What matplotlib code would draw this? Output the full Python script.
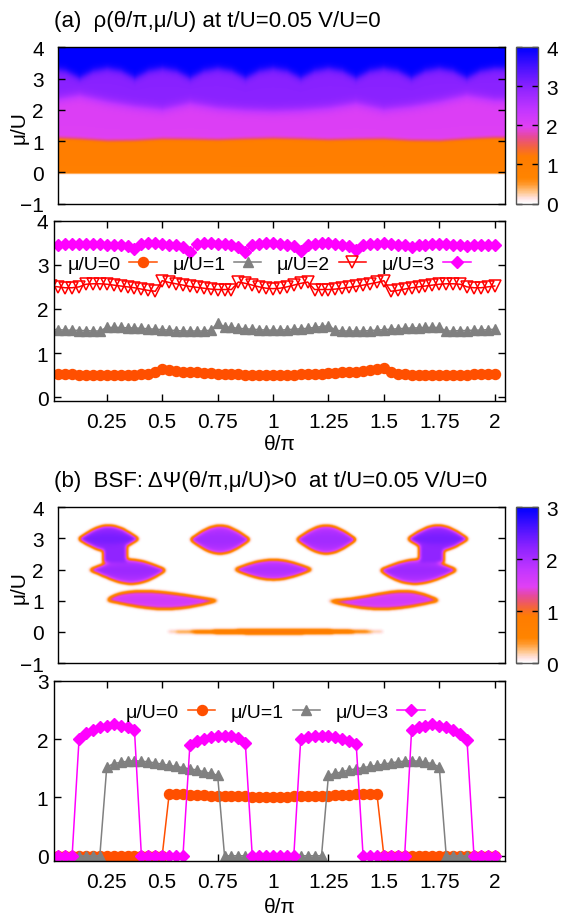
import numpy as np
import matplotlib
matplotlib.use("Agg")
import matplotlib.pyplot as plt
from matplotlib.colors import LinearSegmentedColormap

plt.rcParams['font.family'] = ['Liberation Sans', 'DejaVu Sans']

# ---- data -------------------------------------------------------------
# theta/pi sample points of the line cuts (step 1/32)
theta = np.arange(65) / 32.0
xticks = [0.25, 0.5, 0.75, 1, 1.25, 1.5, 1.75, 2]
xticklabels = ['0.25', '0.5', '0.75', '1', '1.25', '1.5', '1.75', '2']

# (a) density rho(theta) at fixed mu/U
rho_mu0 = [0.53, 0.53, 0.52, 0.52, 0.51, 0.51, 0.50, 0.50, 0.50, 0.50, 0.50, 0.51, 0.51,
           0.52, 0.53, 0.56, 0.63, 0.62, 0.60, 0.58, 0.57, 0.56, 0.55, 0.54, 0.53, 0.53,
           0.52, 0.52, 0.51, 0.51, 0.51, 0.51, 0.51,
           0.51, 0.51, 0.51, 0.52, 0.52, 0.53, 0.53, 0.54, 0.55, 0.56, 0.57, 0.58, 0.60,
           0.62, 0.64, 0.66, 0.56, 0.53, 0.52, 0.51, 0.51, 0.50, 0.50, 0.50, 0.50, 0.50,
           0.51, 0.51, 0.52, 0.52, 0.53, 0.53]
rho_mu1 = [1.54, 1.53, 1.52, 1.52, 1.51, 1.51, 1.50, 1.50, 1.58, 1.58, 1.58, 1.57, 1.57,
           1.56, 1.55, 1.54, 1.53, 1.52, 1.51, 1.50, 1.50, 1.50, 1.50, 1.52, 1.67, 1.60,
           1.58, 1.56, 1.55, 1.54, 1.53, 1.52, 1.52,
           1.52, 1.53, 1.54, 1.55, 1.56, 1.58, 1.60, 1.62, 1.52, 1.50, 1.50, 1.50, 1.50,
           1.51, 1.52, 1.53, 1.54, 1.55, 1.56, 1.57, 1.57, 1.58, 1.58, 1.58, 1.50, 1.50,
           1.51, 1.51, 1.52, 1.52, 1.53, 1.54]
rho_mu2 = [2.52, 2.50, 2.48, 2.48, 2.50, 2.56, 2.57, 2.57, 2.56, 2.54, 2.52, 2.50, 2.48,
           2.45, 2.42, 2.40, 2.64, 2.60, 2.57, 2.54, 2.51, 2.49, 2.47, 2.45, 2.44, 2.44,
           2.44, 2.61, 2.58, 2.54, 2.50, 2.47, 2.46,
           2.47, 2.50, 2.54, 2.58, 2.61, 2.44, 2.44, 2.44, 2.45, 2.47, 2.49, 2.51, 2.54,
           2.57, 2.60, 2.64, 2.40, 2.42, 2.45, 2.48, 2.50, 2.52, 2.54, 2.56, 2.57, 2.57,
           2.56, 2.50, 2.48, 2.48, 2.50, 2.52]
rho_mu3 = [3.45, 3.46, 3.47, 3.48, 3.48, 3.48, 3.47, 3.47, 3.46, 3.45, 3.44, 3.42, 3.36,
           3.48, 3.49, 3.49, 3.48, 3.46, 3.44, 3.40, 3.28,
           3.47, 3.49, 3.49, 3.48, 3.47, 3.44, 3.40, 3.29,
           3.46, 3.48, 3.49, 3.49, 3.48, 3.46, 3.42, 3.32,
           3.46, 3.48, 3.49, 3.49, 3.48, 3.46, 3.43, 3.33,
           3.45, 3.47, 3.48, 3.49, 3.48, 3.46, 3.44, 3.40,
           3.44, 3.46, 3.47, 3.48, 3.47, 3.46, 3.45, 3.42,
           3.44, 3.45, 3.45, 3.45]

# (b) BSF order parameter at fixed mu/U
psi_mu0 = [0.0] * 17 + [1.05, 1.05, 1.05, 1.04, 1.04, 1.04, 1.03, 1.03, 1.03, 1.02, 1.02,
                        1.02, 1.01, 1.01, 1.01, 1.01,
                        1.01, 1.01, 1.02, 1.02, 1.02, 1.03, 1.03, 1.03, 1.04, 1.04,
                        1.04, 1.05, 1.05, 1.05, 1.06] + [0.0] * 17
psi_mu1 = ([0.0] * 8
           + [1.52, 1.58, 1.60, 1.62, 1.63, 1.62, 1.61, 1.59, 1.57, 1.55, 1.53, 1.51, 1.49,
              1.47, 1.44, 1.41, 1.38]
           + [0.0] * 15
           + [1.38, 1.41, 1.44, 1.47, 1.49, 1.51, 1.53, 1.55, 1.57, 1.59, 1.61, 1.62, 1.63,
              1.62, 1.60, 1.58, 1.52]
           + [0.0] * 8)
psi_mu3 = ([0.0] * 4
           + [2.00, 2.10, 2.15, 2.20, 2.22, 2.25, 2.22, 2.20, 2.15]
           + [0.0] * 7
           + [1.90, 1.97, 2.00, 2.03, 2.05, 2.05, 2.05, 2.02, 1.93]
           + [0.0] * 7
           + [2.00, 2.03, 2.05, 2.05, 2.05, 2.03, 2.00, 1.97, 1.92]
           + [0.0] * 7
           + [2.15, 2.20, 2.22, 2.25, 2.22, 2.20, 2.15, 2.08, 1.98]
           + [0.0] * 4)

# (a) map: mu/U of the density steps rho=0->1, 1->2, 2->3, 3->4
step_theta = np.arange(17) / 8.0
step01 = -0.03
step12 = [1.10, 1.06, 1.00, 1.01, 1.06, 1.05, 1.03, 1.06, 1.08, 1.06, 1.03, 1.05, 1.06,
          1.01, 1.00, 1.06, 1.10]
step23 = [2.30, 2.45, 2.25, 2.10, 2.00, 2.20, 2.05, 1.98, 1.95, 1.98, 2.05, 2.20, 2.00,
          2.10, 2.25, 2.45, 2.30]
step34_theta = np.arange(33) / 16.0
step34 = [3.32, 3.24, 3.02, 3.24, 3.32, 3.24, 3.02, 3.24, 3.32, 3.24, 3.02, 3.24, 3.32,
          3.24, 3.02, 3.24, 3.32, 3.24, 3.02, 3.24, 3.32, 3.24, 3.02, 3.24, 3.32, 3.24,
          3.02, 3.24, 3.32, 3.24, 3.02, 3.24, 3.32]

# (b) map: BSF lobes (theta range, centre mu, half heights, peak position, value)
lobe_tl  = [0.500, 0.252, 1.248, 0.826, 0.627, 1.107, 0.122, 1.610, 0.171, 1.486]
lobe_tr  = [1.510, 0.752, 1.748, 1.174, 0.893, 1.373, 0.390, 1.878, 0.514, 1.829]
lobe_mu  = [0.00, 1.00, 1.00, 2.00, 2.96, 2.96, 2.98, 2.98, 1.98, 1.98]
lobe_hup = [0.065, 0.30, 0.30, 0.30, 0.44, 0.44, 0.42, 0.42, 0.33, 0.33]
lobe_hdn = [0.065, 0.27, 0.27, 0.32, 0.44, 0.44, 0.38, 0.38, 0.43, 0.43]
lobe_pup = [0.55, 0.32, 0.68, 0.50, 0.50, 0.50, 0.50, 0.50, 0.50, 0.50]
lobe_pdn = [0.50, 0.52, 0.48, 0.50, 0.50, 0.50, 0.50, 0.50, 0.55, 0.45]
lobe_val = [1.30, 1.65, 1.65, 1.95, 2.05, 2.05, 2.35, 2.35, 2.10, 2.10]
neck_t0 = [0.232, 1.662]
neck_t1 = [0.338, 1.768]
neck_m0 = [2.22, 2.22]
neck_m1 = [2.75, 2.75]
neck_val = [2.20, 2.20]

# ---- helpers ----------------------------------------------------------
pal = LinearSegmentedColormap.from_list('gp', [
    (0.00, '#ffffff'), (0.03, '#ffe4e4'), (0.07, '#ffc890'), (0.12, '#ff9a30'),
    (0.16, '#ff8400'), (0.30, '#ff7c00'), (0.37, '#f2604a'), (0.43, '#e64a9a'),
    (0.49, '#e040f4'), (0.60, '#c236ff'), (0.75, '#8a22ff'), (0.87, '#4a12ff'),
    (1.00, '#0000ff')])


def sig(x):
    return 0.5 * (1.0 + np.tanh(0.5 * x))


def half_height(th, tl, tr, h, peak):
    t = np.clip((th - tl) / (tr - tl), 0.0, 1.0)
    a = np.log(0.5) / np.log(peak)
    return h * np.sin(np.pi * t ** a)


def smooth(z, sx, sy):
    def kern(s):
        n = int(3 * s) + 1
        x = np.arange(-n, n + 1)
        k = np.exp(-0.5 * (x / s) ** 2)
        return k / k.sum()
    kx, ky = kern(sx), kern(sy)
    z = np.apply_along_axis(lambda r: np.convolve(np.pad(r, len(kx) // 2, mode='edge'), kx, mode='valid'), 1, z)
    z = np.apply_along_axis(lambda c: np.convolve(np.pad(c, len(ky) // 2, mode='edge'), ky, mode='valid'), 0, z)
    return z


map_xlim = (0.03, 2.045)
line_xlim = (0.012, 2.045)

# density map
th_a = np.linspace(map_xlim[0], map_xlim[1], 400)
mu_a = np.linspace(-1, 4, 320)
TH, MU = np.meshgrid(th_a, mu_a)
rho_map = sig((MU - step01) / 0.012)
rho_map += sig((MU - np.interp(TH, step_theta, step12)) / 0.04)
rho_map += sig((MU - np.interp(TH, step_theta, step23)) / 0.09)
rho_map += sig((MU - np.interp(TH, step34_theta, step34)) / 0.07)
rho_map[rho_map < 0.004] = 0.0

# BSF map
th_b = np.linspace(map_xlim[0], map_xlim[1], 450)
mu_b = np.linspace(-1, 4, 320)
TB, MB = np.meshgrid(th_b, mu_b)
bsf_map = np.zeros_like(TB)
for i in range(len(lobe_tl)):
    inside_t = (TB > lobe_tl[i]) & (TB < lobe_tr[i])
    hu = half_height(TB, lobe_tl[i], lobe_tr[i], lobe_hup[i], lobe_pup[i])
    hd = half_height(TB, lobe_tl[i], lobe_tr[i], lobe_hdn[i], lobe_pdn[i])
    d = np.where(MB >= lobe_mu[i], (MB - lobe_mu[i]) / np.maximum(hu, 1e-6),
                 (lobe_mu[i] - MB) / np.maximum(hd, 1e-6))
    m = inside_t & (d < 1.0)
    bsf_map = np.where(m, np.maximum(bsf_map, lobe_val[i] * (1 - 0.15 * d ** 2)), bsf_map)
for i in range(len(neck_t0)):
    m = (TB > neck_t0[i]) & (TB < neck_t1[i]) & (MB > neck_m0[i]) & (MB < neck_m1[i])
    bsf_map = np.where(m, np.maximum(bsf_map, neck_val[i]), bsf_map)
bsf_map = smooth(bsf_map, 1.7, 3.4)
bsf_map[bsf_map < 0.004] = 0.0

# ---- figure -----------------------------------------------------------
W, H = 563, 920
fig = plt.figure(figsize=(W / 100, H / 100), dpi=100)


def box(x0, x1, y0, y1):
    return [x0 / W, 1 - y1 / H, (x1 - x0) / W, (y1 - y0) / H]


FS = 15
LFS = 14


def style_map(ax):
    ax.set_xlim(*map_xlim)
    ax.set_ylim(-1, 4)
    ax.set_xticks([])
    ax.set_yticks([-1, 0, 1, 2, 3, 4])
    ax.tick_params(axis='y', direction='in', left=True, right=True, length=5,
                   width=1, labelsize=FS, pad=10)
    for s in ax.spines.values():
        s.set_linewidth(1.0)


def style_line(ax, ymax, ylo):
    ax.set_xlim(*line_xlim)
    ax.set_ylim(ylo, ymax)
    ax.set_xticks(xticks)
    ax.set_xticklabels(xticklabels)
    ax.set_yticks(range(0, ymax + 1))
    ax.tick_params(direction='in', top=True, right=True, length=5, width=1,
                   labelsize=FS)
    ax.tick_params(axis='x', pad=8)
    ax.tick_params(axis='y', pad=4)
    for s in ax.spines.values():
        s.set_linewidth(1.0)


def style_cbar(cb, ticks):
    cb.set_ticks(ticks)
    cb.outline.set_linewidth(1.0)
    cb.outline.set_edgecolor('#555555')
    cb.ax.tick_params(direction='in', left=True, right=True, length=4, width=1,
                      labelsize=FS, pad=6)


# (a) map
ax1 = fig.add_axes(box(57.8, 504.7, 48.3, 204.5))
im1 = ax1.imshow(rho_map, origin='lower', aspect='auto', cmap=pal, vmin=0, vmax=4,
                 extent=[map_xlim[0], map_xlim[1], -1, 4], interpolation='bilinear')
style_map(ax1)
cax1 = fig.add_axes(box(515.5, 538, 48.3, 204.5))
cb1 = fig.colorbar(im1, cax=cax1)
style_cbar(cb1, [0, 1, 2, 3, 4])

# (a) cuts
ax2 = fig.add_axes(box(54, 504.7, 221.7, 401.7))
ax2.plot(theta, rho_mu0, '-o', color='#ff4f00', ms=7.2, lw=1.1, label='μ/U=0')
ax2.plot(theta, rho_mu1, '-^', color='#808080', ms=7.2, lw=1.1, label='μ/U=1')
ax2.plot(theta, rho_mu2, '-v', color='#ff0000', mfc='none', mec='#ff0000', mew=1.1,
         ms=8, lw=1.1, label='μ/U=2')
ax2.plot(theta, rho_mu3, '-D', color='#ff00ff', ms=6.2, lw=1.1, label='μ/U=3')
style_line(ax2, 4, -0.08)
ax2.legend(loc='center left', bbox_to_anchor=(0.03, 0.76), ncol=4, frameon=False,
           markerfirst=False, handlelength=1.4, handletextpad=0.45, columnspacing=0.8,
           borderaxespad=0, borderpad=0, fontsize=LFS)

# (b) map
ax3 = fig.add_axes(box(57.8, 504.7, 508.3, 664))
im3 = ax3.imshow(bsf_map, origin='lower', aspect='auto', cmap=pal, vmin=0, vmax=3,
                 extent=[map_xlim[0], map_xlim[1], -1, 4], interpolation='bilinear')
style_map(ax3)
cax3 = fig.add_axes(box(515.5, 538, 508.3, 664))
cb3 = fig.colorbar(im3, cax=cax3)
style_cbar(cb3, [0, 1, 2, 3])

# (b) cuts
ax4 = fig.add_axes(box(54, 504.7, 681.7, 861.7))
ax4.plot(theta, psi_mu0, '-o', color='#ff4f00', ms=7.2, lw=1.1, label='μ/U=0')
ax4.plot(theta, psi_mu1, '-^', color='#808080', ms=7.2, lw=1.1, label='μ/U=1')
ax4.plot(theta, psi_mu3, '-D', color='#ff00ff', ms=6.2, lw=1.1, label='μ/U=3')
style_line(ax4, 3, -0.085)
ax4.legend(loc='center left', bbox_to_anchor=(0.16, 0.826), ncol=3, frameon=False,
           markerfirst=False, handlelength=1.4, handletextpad=0.45, columnspacing=0.8,
           borderaxespad=0, borderpad=0, fontsize=LFS)

# titles and axis labels
fig.text(54 / W, 1 - 22 / H, '(a)  ρ(θ/π,μ/U) at t/U=0.05 V/U=0', fontsize=16,
         ha='left', va='center')
fig.text(54 / W, 1 - 482 / H, '(b)  BSF: ΔΨ(θ/π,μ/U)>0  at t/U=0.05 V/U=0', fontsize=16,
         ha='left', va='center')
fig.text(19.5 / W, 1 - 128 / H, 'μ/U', rotation=90, fontsize=FS, ha='center', va='center')
fig.text(19.5 / W, 1 - 588 / H, 'μ/U', rotation=90, fontsize=FS, ha='center', va='center')
fig.text(279.4 / W, 1 - 445 / H, 'θ/π', fontsize=FS, ha='center', va='center')
fig.text(279.4 / W, 1 - 908 / H, 'θ/π', fontsize=FS, ha='center', va='center')

fig.savefig('out.png', dpi=100)
